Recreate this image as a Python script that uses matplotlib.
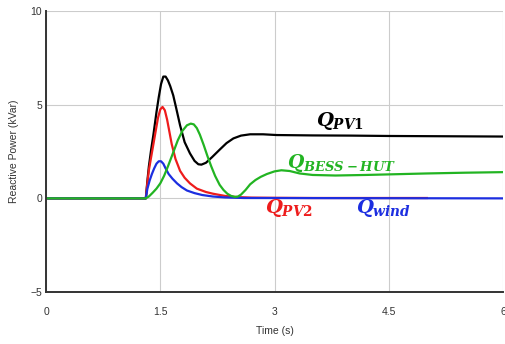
import matplotlib.pyplot as plt

# reactive power of each source (kVar) vs time (s)
t_pv1 = [0, 1.31, 1.33, 1.35, 1.38, 1.41, 1.45, 1.48, 1.51, 1.54, 1.57, 1.60, 1.63, 1.67,
         1.71, 1.76, 1.82, 1.89, 1.95, 2.00, 2.04, 2.10, 2.18, 2.28, 2.37, 2.46, 2.56,
         2.68, 2.85, 3.03, 3.5, 4.0, 4.5, 5.0, 5.5, 6.0]
q_pv1 = [0, 0, 0.9, 1.7, 2.6, 3.4, 4.6, 5.4, 6.1, 6.5, 6.5, 6.3, 6.0, 5.5,
         4.8, 3.9, 3.0, 2.4, 2.0, 1.82, 1.8, 1.9, 2.2, 2.6, 2.95, 3.2, 3.35,
         3.42, 3.42, 3.38, 3.36, 3.35, 3.33, 3.32, 3.31, 3.30]

t_pv2 = [0, 1.31, 1.33, 1.35, 1.38, 1.41, 1.44, 1.47, 1.50, 1.53, 1.56, 1.59, 1.62, 1.65,
         1.70, 1.76, 1.82, 1.89, 1.98, 2.10, 2.19, 2.35, 2.5, 2.7, 3.0, 3.5, 4.0, 4.5, 5.0]
q_pv2 = [0, 0, 0.8, 1.5, 2.2, 2.9, 3.6, 4.3, 4.75, 4.88, 4.7, 4.2, 3.55, 2.9,
         2.1, 1.47, 1.1, 0.8, 0.52, 0.34, 0.25, 0.13, 0.07, 0.04, 0.03, 0.02, 0.02, 0.02, 0.02]

t_wind = [0, 1.31, 1.33, 1.36, 1.39, 1.42, 1.45, 1.48, 1.51, 1.54, 1.57, 1.61, 1.66, 1.72,
          1.78, 1.85, 1.95, 2.05, 2.19, 2.35, 2.6, 6.0]
q_wind = [0, 0, 0.5, 0.95, 1.3, 1.6, 1.85, 1.98, 1.98, 1.85, 1.6, 1.3, 1.05, 0.8,
          0.6, 0.42, 0.28, 0.18, 0.1, 0.05, 0.02, 0.0]

t_bess = [0, 1.31, 1.35, 1.40, 1.45, 1.50, 1.55, 1.60, 1.67, 1.73, 1.79, 1.85, 1.90, 1.94,
          1.98, 2.02, 2.07, 2.12, 2.17, 2.22, 2.28, 2.33, 2.38, 2.43, 2.48, 2.52, 2.56,
          2.62, 2.68, 2.75, 2.82, 2.90, 3.0, 3.09, 3.2, 3.33, 3.5, 3.8, 4.2, 4.5, 5.0, 5.5, 6.0]
q_bess = [0, 0, 0.1, 0.3, 0.52, 0.8, 1.2, 1.7, 2.45, 3.1, 3.6, 3.9, 3.99, 3.95,
          3.75, 3.4, 2.85, 2.25, 1.7, 1.2, 0.72, 0.45, 0.25, 0.13, 0.08, 0.1, 0.2,
          0.45, 0.75, 0.98, 1.15, 1.3, 1.44, 1.5, 1.46, 1.33, 1.25, 1.22, 1.25, 1.28, 1.33, 1.37, 1.40]

x_ticks = [0, 1.5, 3, 4.5, 6]
x_labels = ['0', '1.5', '3', '4.5', '6']
y_ticks = [-5, 0, 5, 10]

plt.rcParams['font.family'] = ['Liberation Sans', 'DejaVu Sans']
plt.rcParams['mathtext.fontset'] = 'custom'
plt.rcParams['mathtext.it'] = 'DejaVu Serif:italic:bold'
plt.rcParams['mathtext.rm'] = 'DejaVu Serif:bold'

fig = plt.figure(figsize=(5.06, 3.44), dpi=100)
ax = fig.add_axes([0.091, 0.151, 0.903, 0.817])

ax.plot(t_pv1, q_pv1, c='black', lw=1.6)
ax.plot(t_pv2, q_pv2, c='#ee1c1c', lw=1.6)
ax.plot(t_wind, q_wind, c='#1c2ee0', lw=1.6)
ax.plot(t_bess, q_bess, c='#22b422', lw=1.6)

ax.text(3.55, 3.85, '$Q_{PV1}$', color='black', fontsize=14)
ax.text(3.17, 1.6, '$Q_{BESS-HUT}$', color='#22b422', fontsize=13.5)
ax.text(2.88, -0.8, '$Q_{PV2}$', color='#ee1c1c', fontsize=14)
ax.text(4.07, -0.8, '$Q_{wind}$', color='#1c2ee0', fontsize=14)

ax.set_xlim(0, 6)
ax.set_ylim(-5, 10)
ax.set_xticks(x_ticks)
ax.set_xticklabels(x_labels)
ax.set_yticks(y_ticks)
ax.grid(color='#cccccc', lw=0.8)
ax.tick_params(length=0, labelsize=7.5, colors='#333333', pad=11)
ax.tick_params(axis='y', pad=3)
for s in ['top', 'right']:
    ax.spines[s].set_visible(False)
for s in ['left', 'bottom']:
    ax.spines[s].set_color('#333333')
    ax.spines[s].set_linewidth(1.4)

ax.set_xlabel('Time (s)', fontsize=7.5, color='#333333', labelpad=6)
ax.set_ylabel('Reactive Power (kVar)', fontsize=7.5, color='#333333', labelpad=8)

fig.savefig('out.png', dpi=100)
